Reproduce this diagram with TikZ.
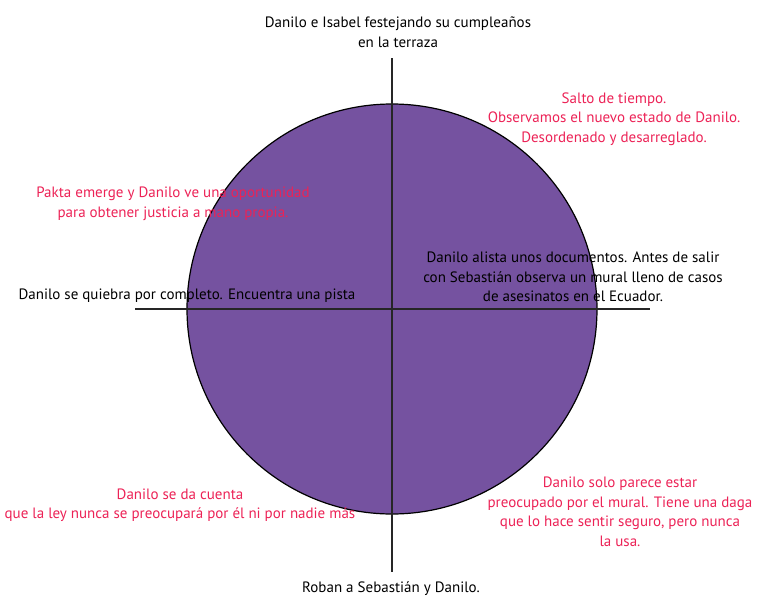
\documentclass[tikz,border=0pt]{standalone}
\usepackage{fontspec}
\setmainfont{PT Sans}
\definecolor{circlefill}{RGB}{117,82,160}
\definecolor{scenered}{RGB}{236,34,86}
\tikzset{
  scene/.style={align=center,inner sep=0pt,font=\fontsize{15}{19.5}\selectfont},
  redscene/.style={scene,text=scenered},
  axis/.style={draw=black!85,line width=1.2pt}
}

\begin{document}
\begin{tikzpicture}[x=1pt,y=-1pt]
      \useasboundingbox (0,0) rectangle (758,598);
      \coordinate (c) at (392,309);
      \draw[fill=circlefill,line width=1.2pt] (c) circle (205pt);
      \coordinate (n) at (392, 58);
      \coordinate (s) at (392,572);
      \coordinate (w) at (135,309);
      \coordinate (e) at (650,309);
      \draw[axis] (n) -- (s);
      \draw[axis] (w) -- (e);
      \node[scene]    (top)  at (398, 32) {Danilo e Isabel festejando su cumpleaños\\en la terraza};
      \node[redscene] (ne)   at (614,119) {Salto de tiempo.\\Observamos el nuevo estado de Danilo.\\Desordenado y desarreglado.};
      \node[redscene] (nw)   at (173,204) {Pakta emerge y Danilo ve una oportunidad\\para obtener justicia a mano propia.};
      \node[scene]    (east) at (573,277) {Danilo alista unos documentos. Antes de salir\\con Sebastián observa un mural lleno de casos\\de asesinatos en el Ecuador.};
      \node[scene]    (west) at (187,296) {Danilo se quiebra por completo. Encuentra una pista};
      \node[redscene] (sw)   at (180,505) {Danilo se da cuenta\\que la ley nunca se preocupará por él ni por nadie más};
      \node[redscene] (se)   at (620,512) {Danilo solo parece estar\\preocupado por el mural. Tiene una daga\\que lo hace sentir seguro, pero nunca\\la usa.};
      \node[scene]    (bot)  at (391,589) {Roban a Sebastián y Danilo.};
    \end{tikzpicture}
\end{document}
